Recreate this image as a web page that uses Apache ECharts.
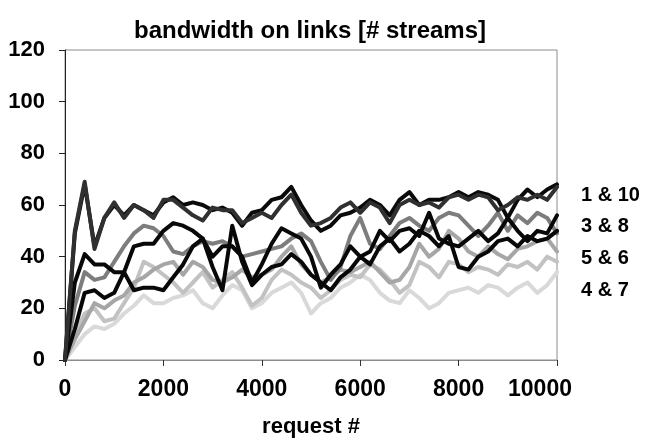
<!DOCTYPE html>
<html>
<head>
<meta charset="utf-8">
<script src="https://cdn.jsdelivr.net/npm/echarts@6/dist/echarts.min.js"></script>
<style>
  html, body { margin: 0; padding: 0; background: #fff; }
  #chart { width: 646px; height: 444px; }
</style>
</head>
<body>
<div id="chart"></div>
<script>
// request number, sampled every 200 requests
const requests = [];
for (let r = 0; r <= 10000; r += 200) requests.push(r);

// streams carried on each link
const link1 = [0,50,69,43,55,61,55,60,58,55,62, 62,59,56,54,59,58,58,53,55, 57,55,60,64,57,52,53,55,59,61, 57,61,59,53,60,62,60,61,59,63, 64,62,64,63,58,60,63,62,64,62,67];
const link10 = [0,49,68,44,55,60,56,60,58,56,61, 63,60,61,60,58,59,57,52,57, 58,62,63,67,60,54,50,52,56,57, 59,62,60,56,62,65,60,62,62,63, 65,63,65,64,62,55,62,66,63,66,68];
const link3 = [0,30,41,37,37,34,34,44,45,45,50, 53,52,50,47,40,44,44,40,30, 37,45,51,49,47,40,28,33,37,44, 40,42,50,46,50,51,48,57,47,45, 44,47,50,46,49,55,50,46,50,49,56];
const link8 = [0,21,34,31,32,38,44,49,52,51,48, 42,41,44,46,45,46,44,40,41, 42,43,44,47,49,46,38,31,36,48, 55,45,43,48,53,55,52,50,55,57, 56,52,48,52,57,50,56,53,57,55,49];
const link5 = [0,12,26,27,24,26,34,27,28,28,27, 32,37,44,47,36,27,52,38,29, 33,36,37,41,38,33,30,27,32,35, 40,37,44,47,42,45,50,48,44,48, 36,35,40,42,46,47,44,48,46,47,50];
const link6 = [0,8,15,22,20,23,25,30,32,35,37, 38,33,38,36,31,30,32,35,32, 33,35,40,44,37,33,30,32,35,34, 36,38,34,30,31,36,45,40,43,50, 47,42,40,44,41,39,43,44,46,47,42];
const link4 = [0,10,18,20,15,16,22,28,38,36,33, 30,26,30,34,28,31,34,28,21, 24,31,35,33,30,28,24,27,31,33, 32,37,35,31,26,29,38,36,32,38, 37,34,36,35,33,37,36,38,35,40,38];
const link7 = [0,5,10,13,12,14,18,21,25,22,22, 24,25,27,22,20,25,29,27,20, 22,26,28,30,26,18,22,24,28,30, 33,31,26,23,22,27,24,20,22,26, 27,28,26,29,28,25,28,30,26,29,34];

// link pair captions shown at the right of the plot
const pairLabels = ['1 & 10', '3 & 8', '5 & 6', '4 & 7'];

const lines = [
  { name: 'link 7',  data: link7,  color: '#d9d9d9' },
  { name: 'link 4',  data: link4,  color: '#c2c2c2' },
  { name: 'link 6',  data: link6,  color: '#a6a6a6' },
  { name: 'link 8',  data: link8,  color: '#7d7d7d' },
  { name: 'link 5',  data: link5,  color: '#080808' },
  { name: 'link 3',  data: link3,  color: '#080808' },
  { name: 'link 10', data: link10, color: '#0a0a0a' },
  { name: 'link 1',  data: link1,  color: '#303030' }
];

const font = 'Liberation Sans, Arial, Helvetica, sans-serif';
const chart = echarts.init(document.getElementById('chart'), null, { renderer: 'canvas' });

chart.setOption({
  animation: false,
  backgroundColor: '#ffffff',
  title: {
    text: 'bandwidth on links [# streams]',
    left: 305, top: 14, textAlign: 'center',
    textStyle: { fontFamily: font, fontWeight: 'bold', fontSize: 24, color: '#000' }
  },
  grid: {
    left: 65, right: 89, top: 50, bottom: 84,
    containLabel: false, outerBoundsMode: 'none',
    show: true, borderColor: '#8c8c8c', borderWidth: 1, backgroundColor: 'transparent'
  },
  xAxis: {
    type: 'value', min: 0, max: 10000, interval: 2000,
    name: 'request #', nameLocation: 'middle', nameGap: 56,
    nameTextStyle: { fontFamily: font, fontWeight: 'bold', fontSize: 22, color: '#000' },
    axisLine: { lineStyle: { color: '#8c8c8c', width: 1 } },
    axisTick: { inside: false, length: 6, lineStyle: { color: '#333' } },
    axisLabel: {
      margin: 18, fontFamily: font, fontWeight: 'bold', fontSize: 23, color: '#000',
      // the last label is nudged inward so it stays inside the page
      formatter: v => v === 10000 ? '{last|' + v + '}' : String(v),
      rich: {
        last: { fontFamily: font, fontWeight: 'bold', fontSize: 23, color: '#000', padding: [0, 34, 0, 0] }
      }
    },
    splitLine: { show: false }
  },
  yAxis: {
    type: 'value', min: 0, max: 120, interval: 20,
    axisLine: { show: true, lineStyle: { color: '#222', width: 1 } },
    axisTick: { show: true, inside: false, length: 6, lineStyle: { color: '#222' } },
    axisLabel: { margin: 20, fontFamily: font, fontWeight: 'bold', fontSize: 22, color: '#000' },
    splitLine: { show: false }
  },
  graphic: pairLabels.map((t, i) => ({
    type: 'text', x: 581, y: 195 + i * 31.7,
    style: { text: t, font: 'bold 20px ' + font, fill: '#000', verticalAlign: 'middle' }
  })),
  series: lines.map(l => ({
    name: l.name, type: 'line', showSymbol: false, smooth: false,
    data: requests.map((r, i) => [r, l.data[i]]),
    lineStyle: { color: l.color, width: 4, join: 'round', cap: 'round' },
    itemStyle: { color: l.color }
  }))
});
</script>
</body>
</html>
